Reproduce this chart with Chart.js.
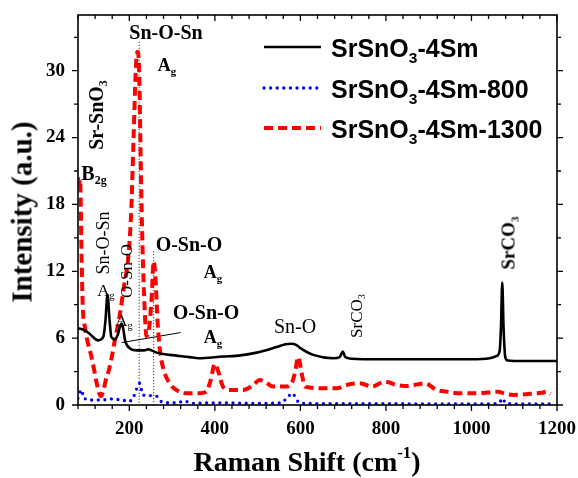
<!DOCTYPE html>
<html>
<head>
<meta charset="utf-8">
<script src="https://cdn.jsdelivr.net/npm/chart.js@4.4.0/dist/chart.umd.min.js"></script>
<style>
  body { margin: 0; background: #fff; }
  #wrap { position: relative; width: 578px; height: 478px; overflow: hidden; }
  #chart { position: absolute; left: 0; top: 0; }
  .lbl {
    position: absolute; white-space: nowrap; line-height: 1; color: #000;
    font-family: "Liberation Serif", "Times New Roman", serif;
    transform: translate(-50%, -50%);
  }
  .lbl.b { font-weight: bold; }
  .lbl.rot { transform: translate(-50%, -50%) rotate(-90deg); }
  .lbl sub { font-size: 0.6em; vertical-align: -0.35em; line-height: 0; }
  .lbl sup { font-size: 0.6em; vertical-align: 0.75em; line-height: 0; }
  .leg {
    position: absolute; left: 331px; white-space: nowrap; line-height: 1;
    font: bold 25px "Liberation Sans", Arial, sans-serif; transform: translateY(-50%);
  }
  .leg sub { font-size: 0.62em; vertical-align: -0.4em; line-height: 0; }
</style>
</head>
<body>
<div id="wrap">
  <canvas id="chart" width="578" height="478"></canvas>

  <!-- axis titles -->
  <div class="lbl b rot" style="left:22px; top:212px; font-size:29px;">Intensity (a.u.)</div>
  <div class="lbl b" style="left:307px; top:462px; font-size:28px;">Raman Shift (cm<sup>-1</sup>)</div>

  <!-- legend text -->
  <div class="leg" style="top:48px;">SrSnO<sub>3</sub>-4Sm</div>
  <div class="leg" style="top:89px;">SrSnO<sub>3</sub>-4Sm-800</div>
  <div class="leg" style="top:129px;">SrSnO<sub>3</sub>-4Sm-1300</div>

  <!-- band assignments -->
  <div class="lbl b" style="left:166px; top:32px; font-size:20px;">Sn-O-Sn</div>
  <div class="lbl b" style="left:167px; top:65px; font-size:18px;">A<sub>g</sub></div>
  <div class="lbl b rot" style="left:96px; top:115px; font-size:20px;">Sr-SnO<sub>3</sub></div>
  <div class="lbl b" style="left:94px; top:173px; font-size:20px;">B<sub>2g</sub></div>
  <div class="lbl rot" style="left:103px; top:243px; font-size:18px;">Sn-O-Sn</div>
  <div class="lbl" style="left:106px; top:290px; font-size:17px;">A<sub>g</sub></div>
  <div class="lbl rot" style="left:126px; top:271px; font-size:17px;">O-Sn-O</div>
  <div class="lbl" style="left:124px; top:320px; font-size:17px;">A<sub>g</sub></div>
  <div class="lbl b" style="left:189px; top:244px; font-size:20px;">O-Sn-O</div>
  <div class="lbl b" style="left:213px; top:272px; font-size:18px;">A<sub>g</sub></div>
  <div class="lbl b" style="left:206px; top:312px; font-size:20px;">O-Sn-O</div>
  <div class="lbl b" style="left:213px; top:337px; font-size:18px;">A<sub>g</sub></div>
  <div class="lbl" style="left:295px; top:326px; font-size:20px;">Sn-O</div>
  <div class="lbl rot" style="left:356px; top:316px; font-size:17px;">SrCO<sub>3</sub></div>
  <div class="lbl b rot" style="left:508px; top:243px; font-size:19px;">SrCO<sub>3</sub></div>
</div>

<script>
// Raman spectra: shift in cm-1, intensity in a.u.
const blackShift = [80, 96, 107, 127, 139, 144, 149, 154, 158, 166, 173, 178, 182, 186, 190, 201, 217, 235, 244, 252,
    264, 295, 341, 361, 419, 460, 498, 544, 565, 578, 590, 600, 630, 677, 692, 699, 705, 720, 786, 850,
    919, 1000, 1043, 1059, 1066, 1069, 1072, 1075, 1079, 1085, 1120, 1200];
const blackIntensity = [6.9, 6.7, 6.4, 5.8, 6.1, 7.5, 9.9, 7.5, 6.1, 5.9, 6.3, 7.0, 7.3, 6.8, 5.8, 5.1, 4.9, 4.9, 5.0, 4.9,
    4.7, 4.5, 4.3, 4.2, 4.35, 4.45, 4.7, 5.2, 5.45, 5.5, 5.4, 5.1, 4.5, 4.2, 4.3, 4.8, 4.3, 4.15, 4.1, 4.1,
    4.1, 4.1, 4.2, 4.4, 4.9, 7.0, 11.0, 7.0, 4.3, 4.0, 3.95, 3.95];

const blueShift = [80, 85, 89, 93, 100, 107, 122, 138, 154, 170, 185, 197, 209, 216, 224, 232, 248, 263, 275, 290,
    310, 330, 345, 400, 500, 555, 571, 582, 591, 605, 700, 800, 900, 1000, 1060, 1068, 1073, 1080, 1120, 1195];
const blueIntensity = [0.6, 1.2, 1.35, 0.6, 0.55, 0.45, 0.45, 0.45, 0.55, 0.5, 0.45, 0.3, 0.65, 1.35, 1.95, 0.9, 0.85, 0.8, 0.3, 0.2,
    0.2, 0.35, 0.15, 0.2, 0.15, 0.2, 0.75, 1.05, 0.45, 0.15, 0.12, 0.12, 0.1, 0.1, 0.12, 0.35, 0.6, 0.15, 0.1, 0.1];

const redShift = [82, 85, 88, 91, 96, 103, 111, 118, 123, 129, 134, 140, 146, 152, 159, 166, 176, 189, 197, 204,
    210, 215, 219, 223, 227, 231, 236, 240, 246, 252, 257, 261, 266, 272, 280, 295, 310, 335, 365, 380,
    390, 400, 408, 419, 435, 466, 490, 505, 520, 536, 567, 580, 587, 595, 603, 611, 654, 685, 708, 739,
    767, 798, 825, 849, 891, 919, 942, 973, 1012, 1063, 1075, 1098, 1137, 1165, 1176, 1185];
const redIntensity = [19.5, 20.3, 14, 9.0, 7.0, 5.6, 4.4, 3.1, 2.1, 1.1, 0.8, 1.4, 2.4, 3.1, 4.3, 5.8, 7.7, 11.0, 13.0, 17.0,
    24.0, 30.0, 31.7, 30.0, 21.0, 14.0, 8.5, 6.2, 6.8, 9.5, 12.9, 11.5, 7.5, 4.8, 3.2, 1.9, 1.35, 1.05, 1.05, 1.2,
    2.2, 3.7, 3.0, 1.65, 1.35, 1.35, 1.8, 2.25, 2.0, 1.65, 1.65, 2.0, 2.85, 4.3, 2.85, 1.65, 1.5, 1.5, 1.8, 1.95,
    1.65, 2.1, 1.8, 1.7, 1.95, 1.35, 1.2, 1.05, 1.05, 1.2, 1.05, 0.9, 1.0, 1.1, 1.2, 1.0];

const xTicks = [200, 400, 600, 800, 1000, 1200];
const yTicks = [0, 6, 12, 18, 24, 30];

// dotted guides under the Sn-O-Sn and O-Sn-O bands, and the pointer line
const guideShifts = [223, 257];
const guideTops = [32.6, 13.8];
const pointerShifts = [182, 320];
const pointerValues = [5.6, 6.5];

function toPoints(xs, ys) {
    return xs.map(function(x, i) { return {x: x, y: ys[i]}; });
}

const black = {color: '#000000', width: 2.6, dash: [], cap: 'butt'};
const blue = {color: '#0000ff', width: 3.3, dash: [0, 6.6], cap: 'round'};
const red = {color: '#ff0000', width: 4, dash: [9, 5], cap: 'butt'};

function spectrum(label, xs, ys, s) {
    return {
        label: label,
        data: toPoints(xs, ys),
        borderColor: s.color,
        borderWidth: s.width,
        borderDash: s.dash,
        borderCapStyle: s.cap,
        pointRadius: 0,
        cubicInterpolationMode: 'monotone'
    };
}

const datasets = [
    spectrum('SrSnO3-4Sm', blackShift, blackIntensity, black),
    spectrum('SrSnO3-4Sm-1300', redShift, redIntensity, red),
    spectrum('SrSnO3-4Sm-800', blueShift, blueIntensity, blue)
];

guideShifts.forEach(function(x, i) {
    datasets.push({
        label: 'guide',
        data: [{x: x, y: guideTops[i]}, {x: x, y: 0}],
        borderColor: '#000',
        borderWidth: 1,
        borderDash: [1, 2],
        pointRadius: 0
    });
});

datasets.push({
    label: 'pointer',
    data: toPoints(pointerShifts, pointerValues),
    borderColor: '#000',
    borderWidth: 1,
    pointRadius: 0
});

// box, tick marks on all four sides, and the legend line samples
const framePlugin = {
    id: 'frame',
    afterDatasetsDraw(chart) {
        const ctx = chart.ctx;
        const a = chart.chartArea;
        const x = chart.scales.x;
        const y = chart.scales.y;

        ctx.save();
        ctx.strokeStyle = '#000';
        ctx.lineWidth = 1.6;
        ctx.strokeRect(a.left, a.top, a.right - a.left, a.bottom - a.top);

        ctx.lineWidth = 1.3;
        ctx.beginPath();
        for (let v = x.min; v <= x.max; v += 40) {
            const px = x.getPixelForValue(v);
            const len = v % 200 === 0 ? 6 : 4;
            ctx.moveTo(px, a.bottom);
            ctx.lineTo(px, a.bottom + len);
            ctx.moveTo(px, a.top);
            ctx.lineTo(px, a.top + len);
        }
        for (let v = y.min; v <= y.max; v += 3) {
            const py = y.getPixelForValue(v);
            const len = v % 6 === 0 ? 6 : 4;
            ctx.moveTo(a.left, py);
            ctx.lineTo(a.left - len, py);
            ctx.moveTo(a.right, py);
            ctx.lineTo(a.right + len, py);
        }
        ctx.stroke();

        [[black, 47], [blue, 88], [red, 128]].forEach(function(item) {
            const s = item[0];
            ctx.beginPath();
            ctx.strokeStyle = s.color;
            ctx.lineWidth = s.width;
            ctx.setLineDash(s.dash);
            ctx.lineCap = s.cap;
            ctx.moveTo(264, item[1]);
            ctx.lineTo(321, item[1]);
            ctx.stroke();
        });
        ctx.restore();
    }
};

// fixed axis sizes so the plot box sits where it does in the figure
function noPadding(scale) {
    scale.paddingLeft = 0;
    scale.paddingRight = 0;
    scale.paddingTop = 0;
    scale.paddingBottom = 0;
}

const tickFont = {family: '"Liberation Serif", "Times New Roman", serif', size: 19, weight: 'bold'};

new Chart(document.getElementById('chart'), {
    type: 'line',
    data: {datasets: datasets},
    options: {
        responsive: false,
        animation: false,
        layout: {padding: {left: 0, right: 21, top: 15, bottom: 0}},
        plugins: {legend: {display: false}, tooltip: {enabled: false}},
        scales: {
            x: {
                type: 'linear',
                min: 80,
                max: 1200,
                grid: {display: false, drawTicks: false},
                border: {display: false},
                afterBuildTicks: function(scale) {
                    scale.ticks = xTicks.map(function(v) { return {value: v}; });
                },
                afterFit: function(scale) { scale.height = 73; noPadding(scale); },
                ticks: {
                    font: tickFont, color: '#000', padding: 13, maxRotation: 0,
                    callback: function(v) { return String(v); }
                }
            },
            y: {
                min: 0,
                max: 35,
                grid: {display: false, drawTicks: false},
                border: {display: false},
                afterBuildTicks: function(scale) {
                    scale.ticks = yTicks.map(function(v) { return {value: v}; });
                },
                afterFit: function(scale) { scale.width = 78; noPadding(scale); },
                ticks: {
                    font: tickFont, color: '#000', padding: 13,
                    callback: function(v) { return String(v); }
                }
            }
        }
    },
    plugins: [framePlugin]
});
</script>
</body>
</html>
